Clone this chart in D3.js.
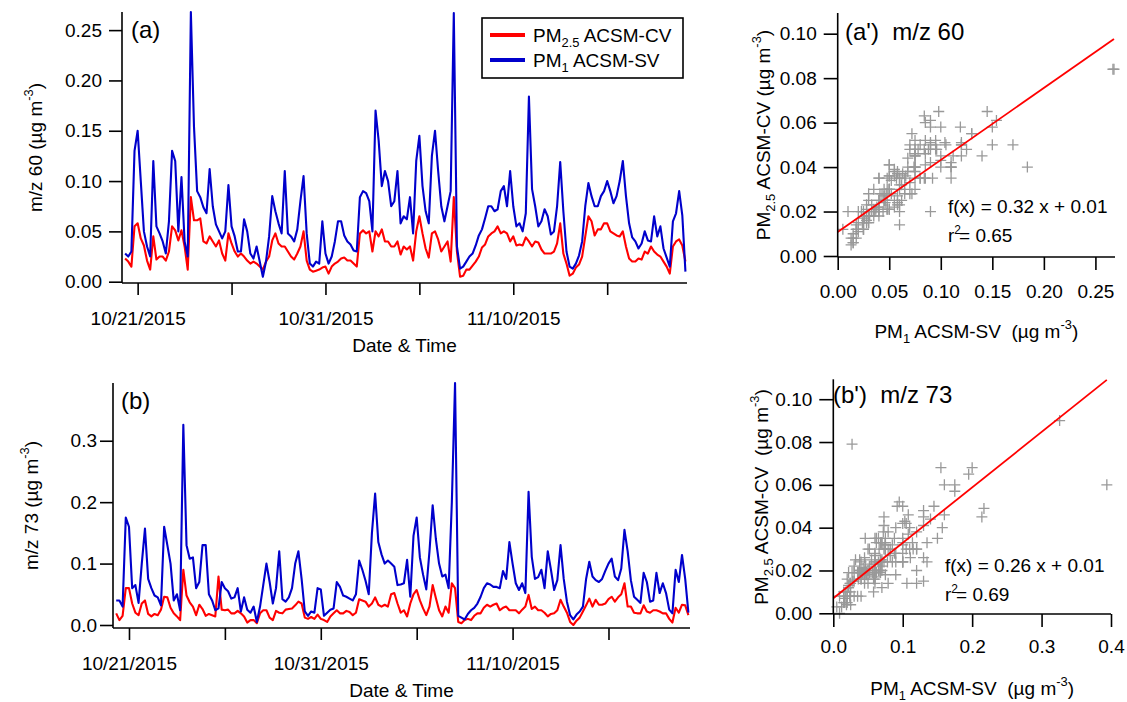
<!DOCTYPE html>
<html>
<head>
<meta charset="utf-8">
<script src="https://cdn.jsdelivr.net/npm/d3@7"></script>
<style>
  body { margin: 0; background: #fff; }
  svg text { font-family: 'Liberation Sans', Arial, sans-serif; fill: #000; white-space: pre; }
</style>
</head>
<body>
<svg id="chart" width="1127" height="702"></svg>
<script>
// ---- Data (4-hourly from 10/20/2015 08:00) ----
const START = new Date(2015, 9, 20, 8);
const STEP_HOURS = 4;

// m/z 60, PM1 ACSM-SV (blue)
const mz60_SV = [
  0.028, 0.025, 0.030, 0.130, 0.150, 0.100, 0.050, 0.035, 0.025, 0.120,
  0.055, 0.048, 0.040, 0.028, 0.060, 0.130, 0.120, 0.050, 0.104, 0.040,
  0.025, 0.268, 0.154, 0.090, 0.084, 0.074, 0.068, 0.112, 0.075, 0.057,
  0.050, 0.043, 0.050, 0.096, 0.055, 0.045, 0.030, 0.030, 0.062, 0.050,
  0.028, 0.023, 0.035, 0.020, 0.005, 0.020, 0.045, 0.085, 0.070, 0.058,
  0.048, 0.110, 0.048, 0.045, 0.040, 0.052, 0.080, 0.105, 0.048, 0.018,
  0.015, 0.020, 0.018, 0.060, 0.028, 0.018, 0.025, 0.040, 0.060, 0.060,
  0.046, 0.040, 0.037, 0.031, 0.030, 0.084, 0.090, 0.088, 0.080, 0.050,
  0.170, 0.140, 0.095, 0.110, 0.100, 0.075, 0.080, 0.110, 0.058, 0.065,
  0.062, 0.084, 0.048, 0.120, 0.145, 0.095, 0.070, 0.058, 0.125, 0.150,
  0.110, 0.075, 0.060, 0.075, 0.090, 0.267, 0.035, 0.013, 0.015, 0.020,
  0.025, 0.028, 0.036, 0.046, 0.052, 0.063, 0.075, 0.075, 0.070, 0.072,
  0.090, 0.095, 0.075, 0.110, 0.075, 0.055, 0.058, 0.050, 0.068, 0.184,
  0.092, 0.075, 0.055, 0.060, 0.072, 0.065, 0.047, 0.050, 0.075, 0.119,
  0.070, 0.030, 0.015, 0.013, 0.018, 0.026, 0.040, 0.075, 0.098, 0.085,
  0.075, 0.075, 0.085, 0.090, 0.100, 0.090, 0.078, 0.085, 0.100, 0.120,
  0.085, 0.058, 0.044, 0.040, 0.033, 0.038, 0.050, 0.041, 0.040, 0.065,
  0.045, 0.055, 0.033, 0.024, 0.015, 0.060, 0.068, 0.090, 0.066, 0.010
];
// m/z 60, PM2.5 ACSM-CV (red)
const mz60_CV = [
  0.023, 0.020, 0.015, 0.055, 0.058, 0.043, 0.036, 0.021, 0.012, 0.045,
  0.022, 0.025, 0.025, 0.021, 0.030, 0.055, 0.051, 0.041, 0.051, 0.035,
  0.012, 0.084, 0.061, 0.061, 0.063, 0.040, 0.038, 0.045, 0.040, 0.035,
  0.041, 0.028, 0.021, 0.048, 0.038, 0.030, 0.025, 0.028, 0.025, 0.021,
  0.018, 0.020, 0.018, 0.015, 0.012, 0.020, 0.025, 0.041, 0.048, 0.038,
  0.035, 0.035, 0.030, 0.025, 0.022, 0.028, 0.035, 0.050, 0.021, 0.012,
  0.010, 0.011, 0.012, 0.014, 0.015, 0.008, 0.015, 0.018, 0.020, 0.023,
  0.024, 0.021, 0.021, 0.018, 0.015, 0.048, 0.051, 0.048, 0.050, 0.030,
  0.050, 0.045, 0.052, 0.040, 0.040, 0.035, 0.035, 0.040, 0.027, 0.035,
  0.032, 0.035, 0.021, 0.050, 0.065, 0.048, 0.033, 0.024, 0.048, 0.050,
  0.042, 0.030, 0.035, 0.040, 0.020, 0.084, 0.030, 0.005, 0.006, 0.012,
  0.012, 0.016, 0.020, 0.025, 0.034, 0.037, 0.045, 0.048, 0.050, 0.055,
  0.048, 0.050, 0.048, 0.040, 0.045, 0.036, 0.037, 0.036, 0.044, 0.040,
  0.035, 0.040, 0.039, 0.032, 0.028, 0.028, 0.028, 0.030, 0.038, 0.058,
  0.028, 0.018, 0.006, 0.008, 0.014, 0.017, 0.025, 0.045, 0.065, 0.060,
  0.046, 0.052, 0.052, 0.058, 0.058, 0.050, 0.048, 0.046, 0.045, 0.050,
  0.035, 0.023, 0.020, 0.020, 0.023, 0.022, 0.030, 0.028, 0.035, 0.030,
  0.027, 0.025, 0.020, 0.015, 0.008, 0.035, 0.040, 0.042, 0.036, 0.020
];
// m/z 73, PM1 ACSM-SV (blue)
const mz73_SV = [
  0.040, 0.040, 0.030, 0.175, 0.160, 0.060, 0.065, 0.036, 0.100, 0.157,
  0.075, 0.060, 0.048, 0.045, 0.032, 0.160, 0.130, 0.100, 0.040, 0.050,
  0.024, 0.326, 0.130, 0.108, 0.110, 0.060, 0.070, 0.130, 0.130, 0.050,
  0.040, 0.024, 0.027, 0.070, 0.060, 0.055, 0.043, 0.045, 0.060, 0.022,
  0.045, 0.025, 0.020, 0.030, 0.005, 0.030, 0.065, 0.100, 0.070, 0.035,
  0.060, 0.120, 0.042, 0.038, 0.045, 0.060, 0.100, 0.120, 0.075, 0.022,
  0.015, 0.022, 0.020, 0.060, 0.058, 0.015, 0.020, 0.025, 0.027, 0.070,
  0.062, 0.048, 0.046, 0.043, 0.040, 0.050, 0.105, 0.090, 0.072, 0.050,
  0.150, 0.214, 0.135, 0.115, 0.100, 0.105, 0.100, 0.095, 0.065, 0.066,
  0.068, 0.106, 0.046, 0.145, 0.175, 0.110, 0.082, 0.058, 0.120, 0.195,
  0.140, 0.100, 0.079, 0.082, 0.060, 0.200, 0.394, 0.015, 0.012, 0.009,
  0.018, 0.024, 0.028, 0.035, 0.046, 0.060, 0.068, 0.066, 0.062, 0.062,
  0.060, 0.088, 0.075, 0.135, 0.100, 0.068, 0.057, 0.068, 0.052, 0.217,
  0.111, 0.075, 0.078, 0.090, 0.060, 0.120, 0.090, 0.057, 0.073, 0.130,
  0.075, 0.038, 0.016, 0.009, 0.017, 0.022, 0.030, 0.075, 0.103, 0.079,
  0.073, 0.070, 0.075, 0.088, 0.100, 0.108, 0.079, 0.073, 0.092, 0.155,
  0.120, 0.073, 0.046, 0.041, 0.036, 0.085, 0.070, 0.038, 0.040, 0.085,
  0.052, 0.068, 0.052, 0.025, 0.019, 0.090, 0.070, 0.114, 0.075, 0.020
];
// m/z 73, PM2.5 ACSM-CV (red)
const mz73_CV = [
  0.019, 0.008, 0.015, 0.060, 0.060, 0.035, 0.020, 0.016, 0.035, 0.040,
  0.018, 0.014, 0.018, 0.016, 0.025, 0.046, 0.045, 0.028, 0.019, 0.014,
  0.008, 0.090, 0.048, 0.037, 0.030, 0.016, 0.033, 0.026, 0.015, 0.018,
  0.016, 0.014, 0.079, 0.025, 0.024, 0.025, 0.019, 0.019, 0.023, 0.019,
  0.014, 0.004, 0.008, 0.008, 0.003, 0.019, 0.024, 0.024, 0.012, 0.008,
  0.023, 0.020, 0.019, 0.025, 0.026, 0.027, 0.032, 0.038, 0.035, 0.012,
  0.010, 0.013, 0.010, 0.017, 0.010, 0.008, 0.005, 0.014, 0.019, 0.024,
  0.019, 0.019, 0.023, 0.021, 0.016, 0.020, 0.042, 0.040, 0.038, 0.030,
  0.035, 0.045, 0.033, 0.030, 0.033, 0.030, 0.050, 0.052, 0.035, 0.020,
  0.024, 0.014, 0.035, 0.050, 0.057, 0.040, 0.027, 0.016, 0.030, 0.065,
  0.044, 0.024, 0.014, 0.030, 0.020, 0.068, 0.060, 0.005, 0.003, 0.008,
  0.010, 0.008, 0.015, 0.019, 0.019, 0.028, 0.033, 0.030, 0.033, 0.035,
  0.024, 0.028, 0.030, 0.024, 0.024, 0.024, 0.019, 0.025, 0.030, 0.049,
  0.026, 0.030, 0.024, 0.024, 0.020, 0.014, 0.018, 0.019, 0.024, 0.041,
  0.030, 0.020, 0.005, 0.000, 0.007, 0.012, 0.022, 0.032, 0.043, 0.030,
  0.041, 0.033, 0.033, 0.035, 0.042, 0.046, 0.038, 0.045, 0.050, 0.068,
  0.030, 0.030, 0.020, 0.019, 0.019, 0.032, 0.022, 0.020, 0.024, 0.024,
  0.022, 0.019, 0.019, 0.010, 0.004, 0.028, 0.020, 0.033, 0.032, 0.016
];

// Axis ticks
const dateTicks = ['2015-10-21', '2015-10-26', '2015-10-31', '2015-11-05', '2015-11-10', '2015-11-15'];
const labelledDates = ['2015-10-21', '2015-10-31', '2015-11-10'];
const ticks60 = [0, 0.05, 0.10, 0.15, 0.20, 0.25];
const ticks73 = [0, 0.1, 0.2, 0.3];
const scatterYTicks = [0, 0.02, 0.04, 0.06, 0.08, 0.10];
const scatter60XTicks = [0, 0.05, 0.10, 0.15, 0.20, 0.25];
const scatter73XTicks = [0, 0.1, 0.2, 0.3, 0.4];

// Linear fits shown in the scatter panels
const fit60 = { slope: 0.324, intercept: 0.0108, text: 'f(x) = 0.32 x + 0.01', r2: '0.65' };
const fit73 = { slope: 0.259, intercept: 0.007, text: 'f(x) = 0.26 x + 0.01', r2: '0.69' };

const RED = '#ff0000';
const BLUE = '#0000cc';
const GREY = '#999999';
const FS = 19;

const svg = d3.select('#chart');
const parseDay = d3.timeParse('%Y-%m-%d');
const times = d3.range(mz60_SV.length).map(i => d3.timeHour.offset(START, i * STEP_HOURS));
const timeDomain = [new Date(2015, 9, 20, 4), new Date(2015, 10, 19, 6)];
const labelSet = new Set(labelledDates);

function styleAxis(g) {
  g.select('.domain').remove();
  g.selectAll('line').attr('stroke', '#000').attr('stroke-width', 1.6);
  g.selectAll('text').attr('font-size', FS).attr('fill', '#000').style('font-family', null);
}

// text with sub/superscripts: parts = [[text, 'sub'|'sup'|null], ...]
function richText(sel, parts, fs) {
  let shift = 0;
  parts.forEach(([t, kind]) => {
    const target = kind === 'sub' ? 5 : kind === 'sup' ? -9 : 0;
    sel.append('tspan')
      .attr('dy', target - shift)
      .attr('font-size', kind ? fs * 0.68 : fs)
      .text(t);
    shift = target;
  });
}

function timePanel(p) {
  const x = d3.scaleTime().domain(timeDomain).range([p.left, p.right]);
  const y = d3.scaleLinear().domain([0, p.yMax]).range([p.y0, p.top]);

  const line = d3.line().x((d, i) => x(times[i])).y(d => y(d));
  svg.append('path').datum(p.cv).attr('d', line)
    .attr('fill', 'none').attr('stroke', RED).attr('stroke-width', 2.1).attr('stroke-linejoin', 'round');
  svg.append('path').datum(p.sv).attr('d', line)
    .attr('fill', 'none').attr('stroke', BLUE).attr('stroke-width', 2.1).attr('stroke-linejoin', 'round');

  // axis lines
  svg.append('line').attr('x1', p.left).attr('x2', p.left).attr('y1', p.top).attr('y2', p.axisY)
    .attr('stroke', '#000').attr('stroke-width', 1.6);
  svg.append('line').attr('x1', p.left).attr('x2', p.right).attr('y1', p.axisY).attr('y2', p.axisY)
    .attr('stroke', '#000').attr('stroke-width', 1.6);

  svg.append('g').attr('transform', `translate(0,${p.axisY})`)
    .call(d3.axisBottom(x).tickValues(dateTicks.map(parseDay)).tickSize(12).tickPadding(p.xPad)
      .tickFormat(d => labelSet.has(d3.timeFormat('%Y-%m-%d')(d)) ? d3.timeFormat('%m/%d/%Y')(d) : ''))
    .call(styleAxis);

  svg.append('g').attr('transform', `translate(${p.left},0)`)
    .call(d3.axisLeft(y).tickValues(p.yTicks).tickSize(13).tickPadding(p.yPad).tickFormat(d3.format(p.yFmt)))
    .call(styleAxis);

  svg.append('text').attr('x', (p.left + p.right) / 2).attr('y', p.xLabelY)
    .attr('text-anchor', 'middle').attr('font-size', FS).text('Date & Time');

  const yl = svg.append('text').attr('transform', `translate(${p.yLabelX},${(p.top + p.axisY) / 2}) rotate(-90)`)
    .attr('text-anchor', 'middle').attr('font-size', FS);
  richText(yl, [[p.yLabel + ' (µg m', null], ['-3', 'sup'], [')', null]], FS);

  svg.append('text').attr('x', p.tagX).attr('y', p.tagY).attr('font-size', 24).text(p.tag);
}

function scatterPanel(p) {
  const x = d3.scaleLinear().domain([0, p.xMax]).range([p.left, p.right]);
  const y = d3.scaleLinear().domain([0, p.yMax]).range([p.y0, p.top]);

  const pts = p.sv.map((v, i) => [v, p.cv[i]]);
  svg.append('g').selectAll('path').data(pts).join('path')
    .attr('transform', d => `translate(${x(d[0])},${y(d[1])})`)
    .attr('d', 'M-5.5,0H5.5M0,-5.5V5.5')
    .attr('stroke', GREY).attr('stroke-width', 1.3).attr('fill', 'none');

  const xEnd = d3.max(p.sv);
  svg.append('line')
    .attr('x1', x(0)).attr('y1', y(p.fit.intercept))
    .attr('x2', x(xEnd)).attr('y2', y(p.fit.intercept + p.fit.slope * xEnd))
    .attr('stroke', RED).attr('stroke-width', 1.8);

  svg.append('line').attr('x1', p.left).attr('x2', p.left).attr('y1', p.top).attr('y2', p.axisY)
    .attr('stroke', '#000').attr('stroke-width', 1.6);
  svg.append('line').attr('x1', p.left).attr('x2', p.right).attr('y1', p.axisY).attr('y2', p.axisY)
    .attr('stroke', '#000').attr('stroke-width', 1.6);

  svg.append('g').attr('transform', `translate(0,${p.axisY})`)
    .call(d3.axisBottom(x).tickValues(p.xTicks).tickSize(13).tickPadding(p.xPad).tickFormat(d3.format(p.xFmt)))
    .call(styleAxis);
  svg.append('g').attr('transform', `translate(${p.left},0)`)
    .call(d3.axisLeft(y).tickValues(scatterYTicks).tickSize(14).tickPadding(7).tickFormat(d3.format('.2f')))
    .call(styleAxis);

  const xl = svg.append('text').attr('x', (p.left + p.right) / 2).attr('y', p.xLabelY)
    .attr('text-anchor', 'middle').attr('font-size', FS);
  richText(xl, [['PM', null], ['1', 'sub'], [' ACSM-SV  (µg m', null], ['-3', 'sup'], [')', null]], FS);

  const yl = svg.append('text').attr('transform', `translate(${p.yLabelX},${p.yLabelY}) rotate(-90)`)
    .attr('text-anchor', 'middle').attr('font-size', FS);
  richText(yl, [['PM', null], ['2.5', 'sub'], [' ACSM-CV' + p.ySpace + '(µg m', null], ['-3', 'sup'], [')', null]], FS);

  svg.append('text').attr('x', p.tagX).attr('y', p.tagY).attr('font-size', 24).text(p.tag);

  svg.append('text').attr('x', p.fitX).attr('y', p.fitY).attr('font-size', FS).text(p.fit.text);
  const r = svg.append('text').attr('x', p.fitX).attr('y', p.fitY + 29).attr('font-size', FS);
  r.append('tspan').text('r');
  r.append('tspan').attr('dy', -8).attr('font-size', 12).text('2');
  r.append('tspan').attr('dy', 8).attr('dx', -2).text('= ' + p.fit.r2);
}

timePanel({
  cv: mz60_CV, sv: mz60_SV, left: 122, right: 687, top: 12, y0: 281.7, axisY: 283, yMax: 0.268,
  yTicks: ticks60, yFmt: '.2f', yPad: 7, xPad: 17, xLabelY: 352,
  yLabel: 'm/z 60', yLabelX: 42, tag: '(a)', tagX: 131, tagY: 38
});
timePanel({
  cv: mz73_CV, sv: mz73_SV, left: 113, right: 690, top: 383, y0: 625, axisY: 628, yMax: 0.394,
  yTicks: ticks73, yFmt: '.1f', yPad: 3, xPad: 17, xLabelY: 697,
  yLabel: 'm/z 73', yLabelX: 38, tag: '(b)', tagX: 121, tagY: 409
});

scatterPanel({
  cv: mz60_CV, sv: mz60_SV, fit: fit60, left: 837.7, right: 1115, top: 13, y0: 256, axisY: 257,
  xMax: 0.269, yMax: 0.1093, xTicks: scatter60XTicks, xFmt: '.2f', xPad: 15, xLabelY: 338,
  yLabelX: 770, yLabelY: 135, ySpace: ' ',
  tag: "(a')  m/z 60", tagX: 845, tagY: 40, fitX: 948, fitY: 213
});
scatterPanel({
  cv: mz73_CV, sv: mz73_SV, fit: fit73, left: 833.3, right: 1111, top: 379.3, y0: 613.3, axisY: 614,
  xMax: 0.4, yMax: 0.1093, xTicks: scatter73XTicks, xFmt: '.1f', xPad: 13, xLabelY: 695,
  yLabelX: 768, yLabelY: 497, ySpace: '  ',
  tag: "(b')  m/z 73", tagX: 833, tagY: 403, fitX: 945, fitY: 572
});

// ---- Legend ----
const legendItems = [
  { color: RED, parts: [['PM', null], ['2.5', 'sub'], [' ACSM-CV', null]] },
  { color: BLUE, parts: [['PM', null], ['1', 'sub'], [' ACSM-SV', null]] }
];
const lg = svg.append('g');
lg.append('rect').attr('x', 482).attr('y', 18).attr('width', 201).attr('height', 60)
  .attr('fill', '#fff').attr('stroke', '#000').attr('stroke-width', 1.6);
legendItems.forEach((it, i) => {
  const cy = 35 + i * 25;
  lg.append('line').attr('x1', 490).attr('x2', 525).attr('y1', cy).attr('y2', cy)
    .attr('stroke', it.color).attr('stroke-width', 4);
  const t = lg.append('text').attr('x', 533).attr('y', cy + 6.5).attr('font-size', FS);
  richText(t, it.parts, FS);
});
</script>
</body>
</html>
